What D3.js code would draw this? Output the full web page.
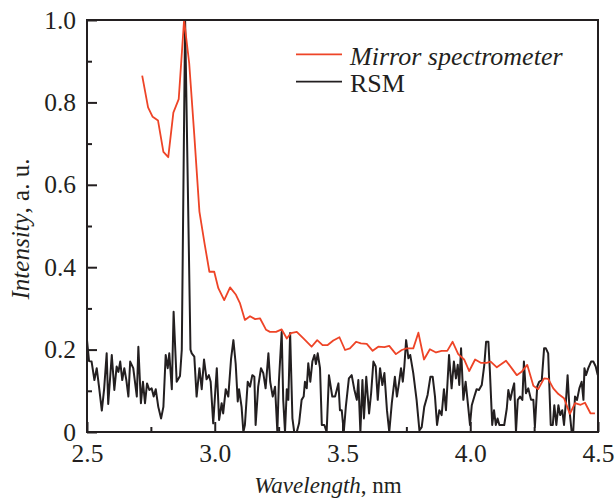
<!DOCTYPE html>
<html>
<head>
<meta charset="utf-8">
<script src="https://cdn.jsdelivr.net/npm/d3@7"></script>
</head>
<body style="margin:0; background:#fff">
<div id="chart"></div>
<script>
// wavelength (nm) and intensity of the mirror spectrometer curve
var mirrorX = [2.716, 2.739, 2.757, 2.778, 2.799, 2.818, 2.838, 2.859, 2.880, 2.900, 2.920, 2.940, 2.960, 2.979, 2.998,
  3.014, 3.037, 3.060, 3.083, 3.099, 3.118, 3.138, 3.158, 3.177, 3.201, 3.216, 3.240, 3.262, 3.282, 3.298, 3.321,
  3.347, 3.379, 3.401, 3.422, 3.442, 3.464, 3.488, 3.510, 3.529, 3.553, 3.572, 3.595, 3.618, 3.640, 3.664, 3.683,
  3.709, 3.732, 3.751, 3.777, 3.797, 3.819, 3.842, 3.866, 3.888, 3.910, 3.931, 3.953, 3.976, 3.996, 4.019, 4.041,
  4.064, 4.080, 4.104, 4.140, 4.162, 4.182, 4.201, 4.223, 4.247, 4.266, 4.289, 4.305, 4.325, 4.345, 4.367, 4.390,
  4.410, 4.432, 4.449, 4.471, 4.488];
var mirrorY = [0.865, 0.788, 0.765, 0.756, 0.680, 0.667, 0.775, 0.808, 1.000, 0.895, 0.720, 0.535, 0.458, 0.389, 0.389,
  0.349, 0.320, 0.351, 0.333, 0.312, 0.272, 0.281, 0.274, 0.276, 0.248, 0.243, 0.243, 0.249, 0.227, 0.240, 0.243,
  0.227, 0.207, 0.223, 0.211, 0.211, 0.222, 0.230, 0.199, 0.203, 0.219, 0.215, 0.214, 0.197, 0.207, 0.206, 0.209,
  0.189, 0.199, 0.203, 0.203, 0.241, 0.176, 0.201, 0.193, 0.197, 0.197, 0.219, 0.189, 0.176, 0.148, 0.176, 0.168,
  0.168, 0.171, 0.157, 0.173, 0.155, 0.138, 0.146, 0.163, 0.112, 0.104, 0.130, 0.129, 0.106, 0.092, 0.082, 0.044,
  0.070, 0.066, 0.071, 0.045, 0.045];

// wavelength (nm) and intensity of the RSM curve
var rsmX = [2.500, 2.508, 2.518, 2.529, 2.538, 2.547, 2.558, 2.567, 2.577, 2.583, 2.597, 2.607, 2.616, 2.623, 2.630,
  2.638, 2.646, 2.654, 2.662, 2.669, 2.681, 2.695, 2.701, 2.711, 2.719, 2.727, 2.735, 2.744, 2.753, 2.761, 2.769,
  2.779, 2.790, 2.799, 2.808, 2.816, 2.822, 2.832, 2.839, 2.851, 2.864, 2.871, 2.884, 2.905, 2.910, 2.920, 2.929,
  2.940, 2.949, 2.958, 2.968, 2.977, 2.984, 2.994, 3.008, 3.017, 3.027, 3.033, 3.043, 3.053, 3.064, 3.073, 3.082,
  3.090, 3.095, 3.105, 3.112, 3.118, 3.129, 3.138, 3.147, 3.155, 3.160, 3.170, 3.181, 3.190, 3.199, 3.210, 3.217,
  3.227, 3.236, 3.245, 3.251, 3.262, 3.268, 3.275, 3.282, 3.288, 3.295, 3.304, 3.311, 3.321, 3.330, 3.340, 3.348,
  3.353, 3.360, 3.366, 3.374, 3.382, 3.390, 3.396, 3.403, 3.412, 3.419, 3.429, 3.438, 3.447, 3.460, 3.471, 3.484,
  3.490, 3.497, 3.505, 3.513, 3.525, 3.536, 3.546, 3.556, 3.562, 3.570, 3.578, 3.584, 3.593, 3.604, 3.612, 3.621,
  3.630, 3.638, 3.647, 3.656, 3.664, 3.674, 3.683, 3.693, 3.705, 3.713, 3.721, 3.729, 3.736, 3.742, 3.749, 3.758,
  3.765, 3.777, 3.790, 3.801, 3.810, 3.820, 3.833, 3.844, 3.853, 3.862, 3.870, 3.879, 3.888, 3.897, 3.905, 3.917,
  3.927, 3.936, 3.944, 3.951, 3.957, 3.964, 3.973, 3.982, 3.992, 3.999, 4.006, 4.016, 4.025, 4.034, 4.045, 4.055,
  4.062, 4.071, 4.077, 4.086, 4.093, 4.100, 4.107, 4.114, 4.123, 4.133, 4.143, 4.149, 4.157, 4.165, 4.172, 4.179,
  4.186, 4.195, 4.204, 4.210, 4.218, 4.227, 4.238, 4.247, 4.253, 4.262, 4.270, 4.280, 4.289, 4.296, 4.305, 4.315,
  4.323, 4.329, 4.337, 4.345, 4.352, 4.360, 4.367, 4.375, 4.381, 4.389, 4.397, 4.403, 4.410, 4.418, 4.427, 4.436,
  4.443, 4.447, 4.453, 4.462, 4.473, 4.482, 4.491, 4.499];
var rsmY = [0.223, 0.172, 0.171, 0.126, 0.155, 0.110, 0.052, 0.104, 0.191, 0.068, 0.187, 0.102, 0.159, 0.146, 0.171,
  0.126, 0.155, 0.126, 0.086, 0.171, 0.155, 0.086, 0.207, 0.070, 0.122, 0.070, 0.118, 0.102, 0.106, 0.086, 0.104,
  0.061, 0.033, 0.061, 0.187, 0.155, 0.191, 0.104, 0.292, 0.122, 0.136, 0.200, 1.000, 0.200, 0.191, 0.183, 0.086,
  0.155, 0.104, 0.176, 0.128, 0.138, 0.122, 0.021, 0.155, 0.029, 0.070, 0.045, 0.104, 0.086, 0.179, 0.223, 0.165,
  0.074, 0.104, 0.061, 0.000, 0.017, 0.122, 0.110, 0.138, 0.134, 0.017, 0.110, 0.155, 0.143, 0.106, 0.191, 0.122,
  0.086, 0.110, 0.000, 0.122, 0.243, 0.078, 0.000, 0.104, 0.078, 0.240, 0.033, 0.000, 0.000, 0.021, 0.078, 0.086,
  0.122, 0.106, 0.167, 0.122, 0.171, 0.187, 0.165, 0.191, 0.155, 0.017, 0.017, 0.000, 0.138, 0.086, 0.086, 0.118,
  0.053, 0.053, 0.000, 0.061, 0.130, 0.138, 0.104, 0.078, 0.126, 0.000, 0.126, 0.033, 0.134, 0.045, 0.094, 0.171,
  0.159, 0.078, 0.155, 0.114, 0.143, 0.053, 0.000, 0.070, 0.134, 0.086, 0.118, 0.155, 0.122, 0.159, 0.223, 0.179,
  0.187, 0.143, 0.078, 0.004, 0.012, 0.061, 0.090, 0.134, 0.134, 0.086, 0.017, 0.053, 0.041, 0.104, 0.053, 0.187,
  0.106, 0.171, 0.130, 0.163, 0.114, 0.203, 0.078, 0.122, 0.061, 0.017, 0.065, 0.086, 0.104, 0.102, 0.114, 0.163,
  0.219, 0.219, 0.146, 0.017, 0.053, 0.017, 0.033, 0.017, 0.017, 0.017, 0.057, 0.102, 0.078, 0.102, 0.118, 0.000,
  0.078, 0.086, 0.078, 0.171, 0.094, 0.106, 0.078, 0.078, 0.012, 0.110, 0.122, 0.126, 0.203, 0.203, 0.191, 0.017,
  0.017, 0.065, 0.017, 0.065, 0.041, 0.053, 0.017, 0.078, 0.138, 0.049, 0.000, 0.000, 0.086, 0.078, 0.106, 0.122,
  0.078, 0.155, 0.138, 0.155, 0.171, 0.171, 0.159, 0.138];

// tick values
var xMajorTicks = [2.5, 3.0, 3.5, 4.0, 4.5];
var xMinorTicks = [2.75, 3.25, 3.75, 4.25];
var yMajorTicks = [0, 0.2, 0.4, 0.6, 0.8, 1.0];
var yMinorTicks = [0.1, 0.3, 0.5, 0.7, 0.9];
var seriesNames = ["Mirror spectrometer", "RSM"];
var seriesColors = ["#ee4427", "#231f20"];

var serif = "Liberation Serif";
var ink = "#231f20";

var width = 616, height = 500;
var margin = {top: 20, right: 18, bottom: 68, left: 87};
var innerW = width - margin.left - margin.right;
var innerH = height - margin.top - margin.bottom;

var svg = d3.select("#chart").append("svg")
  .attr("width", width)
  .attr("height", height)
  .attr("font-family", serif);

var g = svg.append("g")
  .attr("transform", "translate(" + margin.left + "," + margin.top + ")");

var x = d3.scaleLinear().domain([2.5, 4.5]).range([0, innerW]);
var y = d3.scaleLinear().domain([0, 1]).range([innerH, 0]);

g.append("clipPath").attr("id", "plotclip")
  .append("rect").attr("width", innerW).attr("height", innerH);

var line = d3.line()
  .x(function(d) { return x(d[0]); })
  .y(function(d) { return y(d[1]); });

var rsmData = rsmX.map(function(v, i) { return [v, rsmY[i]]; });
var mirrorData = mirrorX.map(function(v, i) { return [v, mirrorY[i]]; });

var plot = g.append("g").attr("clip-path", "url(#plotclip)");

// RSM first, mirror on top
plot.append("path")
  .datum(rsmData)
  .attr("d", line)
  .attr("fill", "none")
  .attr("stroke", seriesColors[1])
  .attr("stroke-width", 2)
  .attr("stroke-linejoin", "round");

plot.append("path")
  .datum(mirrorData)
  .attr("d", line)
  .attr("fill", "none")
  .attr("stroke", seriesColors[0])
  .attr("stroke-width", 1.8)
  .attr("stroke-linejoin", "round");

// axes with inward ticks
var xAxisG = g.append("g")
  .attr("transform", "translate(0," + innerH + ")")
  .call(d3.axisBottom(x).tickValues(xMajorTicks).tickSize(-10).tickPadding(12)
    .tickFormat(d3.format(".1f")));
g.append("g")
  .attr("transform", "translate(0," + innerH + ")")
  .call(d3.axisBottom(x).tickValues(xMinorTicks).tickSize(-5).tickFormat(""));

var yAxisG = g.append("g")
  .call(d3.axisLeft(y).tickValues(yMajorTicks).tickSize(-10).tickPadding(11)
    .tickFormat(function(d) { return d === 0 ? "0" : d3.format(".1f")(d); }));
g.append("g")
  .call(d3.axisLeft(y).tickValues(yMinorTicks).tickSize(-5).tickFormat(""));

// d3 puts sans-serif on the axis groups, put the serif back
xAxisG.attr("font-family", serif).attr("font-size", 25.5);
yAxisG.attr("font-family", serif).attr("font-size", 25.5);

g.selectAll(".domain").remove();
g.selectAll(".tick line").attr("stroke", ink).attr("stroke-width", 2);
g.selectAll(".tick text")
  .attr("font-family", serif)
  .attr("fill", ink);

// frame
g.append("rect")
  .attr("width", innerW)
  .attr("height", innerH)
  .attr("fill", "none")
  .attr("stroke", ink)
  .attr("stroke-width", 2);

// axis titles
var xt = svg.append("text")
  .attr("x", 328)
  .attr("y", 493)
  .attr("text-anchor", "middle")
  .attr("fill", ink)
  .attr("font-size", 23);
xt.append("tspan").attr("font-style", "italic").text("Wavelength");
xt.append("tspan").text(", nm");

var yt = svg.append("text")
  .attr("transform", "translate(29,229) rotate(-90)")
  .attr("text-anchor", "middle")
  .attr("fill", ink)
  .attr("font-size", 25);
yt.append("tspan").attr("font-style", "italic").text("Intensity");
yt.append("tspan").text(", a. u.");

// legend
var legend = svg.append("g");
seriesNames.forEach(function(name, i) {
  var ly = 54.3 + i * 27.4;
  legend.append("line")
    .attr("x1", 296).attr("x2", 342)
    .attr("y1", ly).attr("y2", ly)
    .attr("stroke", seriesColors[i])
    .attr("stroke-width", 1.8);
  legend.append("text")
    .attr("x", 350)
    .attr("y", ly + 10.5)
    .attr("fill", ink)
    .attr("font-size", 26)
    .attr("font-style", i === 0 ? "italic" : "normal")
    .text(name);
});
</script>
</body>
</html>
